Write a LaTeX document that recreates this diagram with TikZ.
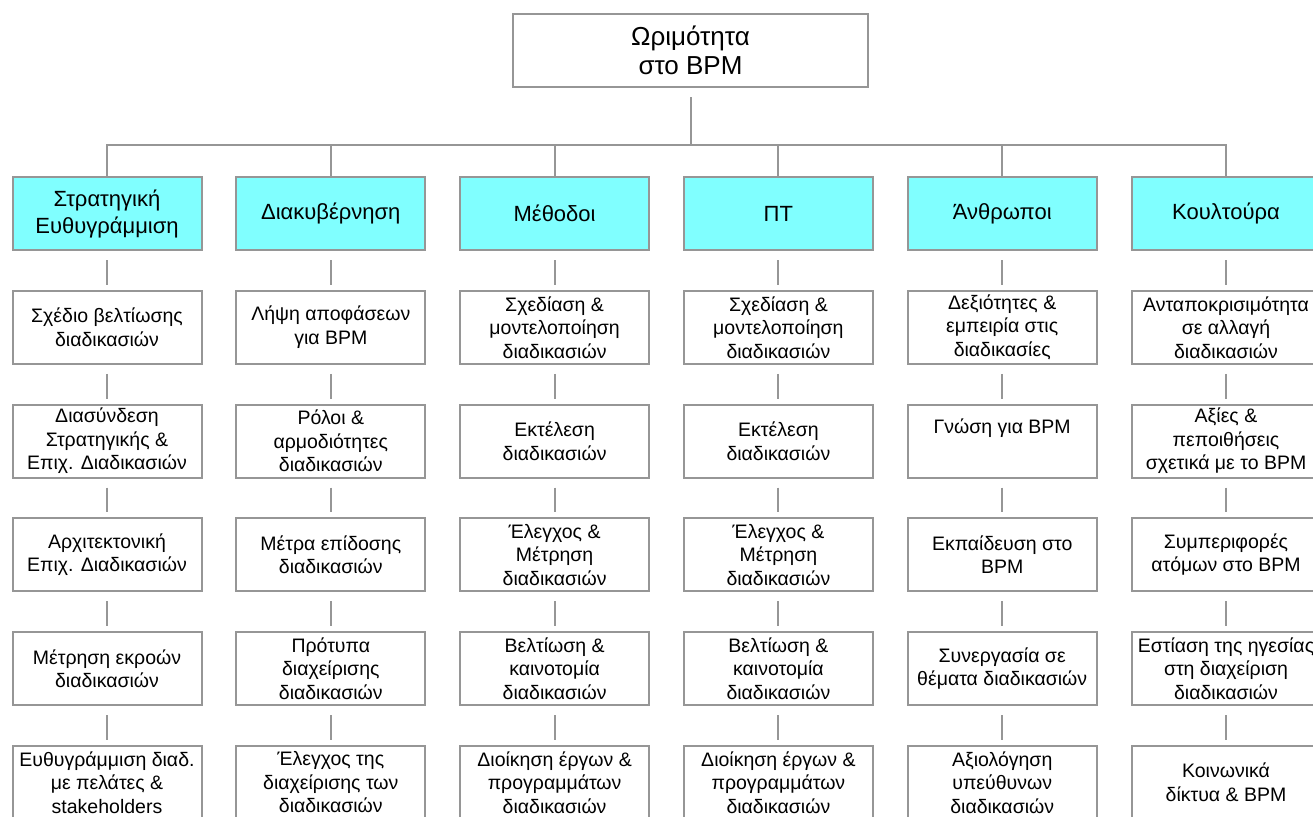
\documentclass[tikz,border=0pt]{standalone}
\usepackage{fontspec}
\setmainfont{Liberation Sans}
\definecolor{headcyan}{RGB}{128,255,255}
\definecolor{linegray}{RGB}{150,150,150}
\begin{document}
\begin{tikzpicture}[x=1pt, y=-1pt, node distance=113.75pt,
  box/.style={draw=linegray, line width=2pt, fill=white, rectangle, align=center,
    minimum width=189pt, minimum height=73pt, inner sep=1pt,
    font=\fontsize{19.5}{23.5}\selectfont},
  head/.style={box, fill=headcyan, font=\fontsize{22}{27}\selectfont},
  link/.style={draw=linegray, line width=2pt, shorten <=9pt, shorten >=5pt}]
\useasboundingbox (0,0) rectangle (1313,816);
\node[box, minimum width=355pt, font=\fontsize{26}{29}\selectfont] (top) at (690.5,50.5) {Ωριμότητα\\στο BPM};
\coordinate (bus) at (0,145);
% headers
\node[head] (h1) at (107,213.5) {Στρατηγική\\Ευθυγράμμιση};
\node[head] (h2) at (330.8,213.5) {Διακυβέρνηση};
\node[head] (h3) at (554.6,213.5) {Μέθοδοι};
\node[head] (h4) at (778.4,213.5) {ΠΤ};
\node[head] (h5) at (1002.2,213.5) {Άνθρωποι};
\node[head] (h6) at (1226,213.5) {Κουλτούρα};
% column 1
\node[box, below of=h1] (h11) {Σχέδιο βελτίωσης\\διαδικασιών};
\node[box, below of=h11] (h12) {Διασύνδεση\\Στρατηγικής \&\\Επιχ. Διαδικασιών};
\node[box, below of=h12] (h13) {Αρχιτεκτονική\\Επιχ. Διαδικασιών};
\node[box, below of=h13] (h14) {Μέτρηση εκροών\\διαδικασιών};
\node[box, below of=h14] (h15) {Ευθυγράμμιση διαδ.\\με πελάτες \&\\stakeholders};
% column 2
\node[box, below of=h2] (h21) {Λήψη αποφάσεων\\για BPM};
\node[box, below of=h21] (h22) {Ρόλοι \&\\αρμοδιότητες\\διαδικασιών};
\node[box, below of=h22] (h23) {Μέτρα επίδοσης\\διαδικασιών};
\node[box, below of=h23] (h24) {Πρότυπα\\διαχείρισης\\διαδικασιών};
\node[box, below of=h24] (h25) {Έλεγχος της\\διαχείρισης των\\διαδικασιών};
% column 3
\node[box, below of=h3] (h31) {Σχεδίαση \&\\μοντελοποίηση\\διαδικασιών};
\node[box, below of=h31] (h32) {Εκτέλεση\\διαδικασιών};
\node[box, below of=h32] (h33) {Έλεγχος \&\\Μέτρηση\\διαδικασιών};
\node[box, below of=h33] (h34) {Βελτίωση \&\\καινοτομία\\διαδικασιών};
\node[box, below of=h34] (h35) {Διοίκηση έργων \&\\προγραμμάτων\\διαδικασιών};
% column 4
\node[box, below of=h4] (h41) {Σχεδίαση \&\\μοντελοποίηση\\διαδικασιών};
\node[box, below of=h41] (h42) {Εκτέλεση\\διαδικασιών};
\node[box, below of=h42] (h43) {Έλεγχος \&\\Μέτρηση\\διαδικασιών};
\node[box, below of=h43] (h44) {Βελτίωση \&\\καινοτομία\\διαδικασιών};
\node[box, below of=h44] (h45) {Διοίκηση έργων \&\\προγραμμάτων\\διαδικασιών};
% column 5
\node[box, below of=h5] (h51) {Δεξιότητες \&\\εμπειρία στις\\διαδικασίες};
\node[box, below of=h51] (h52) {Γνώση για BPM\\\strut};
\node[box, below of=h52] (h53) {Εκπαίδευση στο\\BPM};
\node[box, below of=h53] (h54) {Συνεργασία σε\\θέματα διαδικασιών};
\node[box, below of=h54] (h55) {Αξιολόγηση\\υπεύθυνων\\διαδικασιών};
% column 6
\node[box, below of=h6] (h61) {Ανταποκρισιμότητα\\σε αλλαγή\\διαδικασιών};
\node[box, below of=h61] (h62) {Αξίες \&\\πεποιθήσεις\\σχετικά με το BPM};
\node[box, below of=h62] (h63) {Συμπεριφορές\\ατόμων στο BPM};
\node[box, below of=h63] (h64) {Εστίαση της ηγεσίας\\στη διαχείριση\\διαδικασιών};
\node[box, below of=h64] (h65) {Κοινωνικά\\δίκτυα \& BPM};
% top level links
\draw[link, shorten >=0pt] (top) -- (top |- bus);
\draw[link, shorten <=0pt, shorten >=0pt] (h1.north) |- (h6 |- bus) -- (h6.north);
\draw[link, shorten <=0pt, shorten >=0pt] (h2.north) -- (h2 |- bus);
\draw[link, shorten <=0pt, shorten >=0pt] (h3.north) -- (h3 |- bus);
\draw[link, shorten <=0pt, shorten >=0pt] (h4.north) -- (h4 |- bus);
\draw[link, shorten <=0pt, shorten >=0pt] (h5.north) -- (h5 |- bus);
% column links
\draw[link] (h1) -- (h11);
\draw[link] (h11) -- (h12);
\draw[link] (h12) -- (h13);
\draw[link] (h13) -- (h14);
\draw[link] (h14) -- (h15);
\draw[link] (h2) -- (h21);
\draw[link] (h21) -- (h22);
\draw[link] (h22) -- (h23);
\draw[link] (h23) -- (h24);
\draw[link] (h24) -- (h25);
\draw[link] (h3) -- (h31);
\draw[link] (h31) -- (h32);
\draw[link] (h32) -- (h33);
\draw[link] (h33) -- (h34);
\draw[link] (h34) -- (h35);
\draw[link] (h4) -- (h41);
\draw[link] (h41) -- (h42);
\draw[link] (h42) -- (h43);
\draw[link] (h43) -- (h44);
\draw[link] (h44) -- (h45);
\draw[link] (h5) -- (h51);
\draw[link] (h51) -- (h52);
\draw[link] (h52) -- (h53);
\draw[link] (h53) -- (h54);
\draw[link] (h54) -- (h55);
\draw[link] (h6) -- (h61);
\draw[link] (h61) -- (h62);
\draw[link] (h62) -- (h63);
\draw[link] (h63) -- (h64);
\draw[link] (h64) -- (h65);
\end{tikzpicture}
\end{document}
